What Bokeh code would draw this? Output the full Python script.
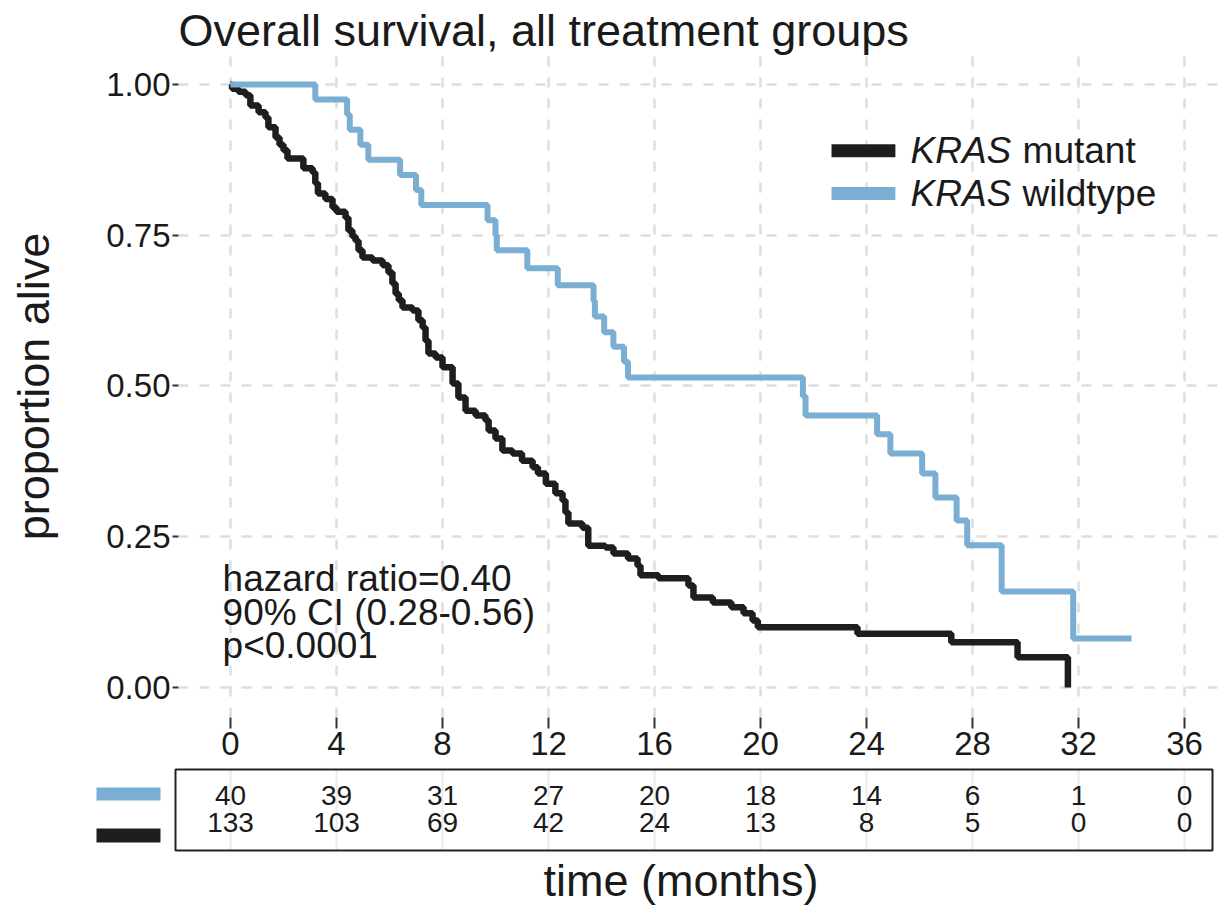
from bokeh.plotting import figure
from bokeh.models import Range1d, FixedTicker, NumeralTickFormatter, Title
from bokeh.layouts import column
from bokeh.embed import file_html
from bokeh.resources import INLINE
from bokeh.core.properties import value

# ---------------- data ----------------
month_ticks = [0, 4, 8, 12, 16, 20, 24, 28, 32, 36]
surv_ticks = [0.0, 0.25, 0.5, 0.75, 1.0]

# KRAS wildtype (n=40): step times (months) and survival after each step
wt_time = [0, 3.2, 4.4, 4.5, 4.9, 5.2, 6.4, 7.0, 7.2, 9.7, 10.0, 10.05, 11.2, 12.35,
           13.7, 13.75, 14.1, 14.45, 14.85, 15.0, 21.6, 21.7, 24.4, 24.9, 26.1, 26.6,
           27.4, 27.8, 29.1, 31.8, 34.0]
wt_surv = [1.0, 0.975, 0.95, 0.925, 0.90, 0.875, 0.85, 0.825, 0.80, 0.775, 0.75, 0.725,
           0.695, 0.667, 0.641, 0.615, 0.589, 0.565, 0.540, 0.514, 0.483, 0.451, 0.420,
           0.388, 0.355, 0.315, 0.277, 0.236, 0.159, 0.081, 0.081]

# KRAS mutant (n=133)
mut_time = [0, 0.06, 0.3, 0.57, 0.75, 1.06, 1.32, 1.43, 1.7, 1.85, 2.0, 2.15, 2.75, 3.1,
            3.2, 3.3, 3.58, 3.85, 4.0, 4.34, 4.45, 4.6, 4.72, 4.83, 4.98, 5.36, 5.74,
            5.96, 6.11, 6.23, 6.35, 6.49, 6.87, 7.09, 7.25, 7.36, 7.47, 7.74, 8.0, 8.38,
            8.6, 8.87, 9.25, 9.62, 9.74, 10.0, 10.26, 10.64, 11.0, 11.4, 11.6, 11.9,
            12.26, 12.53, 12.64, 12.75, 13.28, 13.5, 14.15, 14.45, 15.0, 15.36, 15.47,
            16.15, 17.28, 17.47, 18.2, 18.9, 19.36, 19.7, 19.9, 23.66, 27.2, 29.7, 31.6]
mut_surv = [1.0, 0.993, 0.988, 0.982, 0.965, 0.954, 0.945, 0.929, 0.912, 0.900, 0.891,
            0.877, 0.861, 0.854, 0.836, 0.819, 0.810, 0.796, 0.789, 0.779, 0.758, 0.748,
            0.741, 0.725, 0.713, 0.708, 0.700, 0.688, 0.670, 0.653, 0.642, 0.630, 0.625,
            0.609, 0.597, 0.575, 0.554, 0.547, 0.531, 0.504, 0.481, 0.459, 0.451, 0.443,
            0.426, 0.413, 0.393, 0.388, 0.376, 0.365, 0.355, 0.338, 0.322, 0.310, 0.290,
            0.272, 0.265, 0.235, 0.232, 0.222, 0.214, 0.202, 0.186, 0.181, 0.169, 0.149,
            0.141, 0.133, 0.123, 0.111, 0.100, 0.089, 0.075, 0.050, 0.0]

risk_wt = [40, 39, 31, 27, 20, 18, 14, 6, 1, 0]
risk_mut = [133, 103, 69, 42, 24, 13, 8, 5, 0, 0]

stats_lines = ["hazard ratio=0.40", "90% CI (0.28-0.56)", "p<0.0001"]
legend_groups = ["mutant", "wildtype"]

# ---------------- style ----------------
FONT = "Liberation Sans"
BLACK = "#1e1e1e"
BLUE = "#7aaed3"
GRID = "#dedede"
TXT = "#1a1a1a"
W = 1220
PXM = 26.5          # pixels per month
X0 = 230            # pixel position of month 0


def no_align(fig):
    if "frame_align" in fig.properties():
        fig.frame_align = False


# ---------------- main KM plot ----------------
p = figure(width=W, height=765,
           x_range=Range1d((178 - X0) / PXM, (W - X0) / PXM), y_range=Range1d(-0.0498, 1.048),
           output_backend="svg", toolbar_location=None,
           min_border_left=178, min_border_right=0, min_border_top=55, min_border_bottom=48)
no_align(p)
p.outline_line_color = None
p.background_fill_color = "white"
p.title = Title(text="Overall survival, all treatment groups", text_font=FONT,
                text_font_size="45px", text_font_style="normal", text_color=TXT,
                align="left", standoff=0, offset=0)

for g in (p.xgrid, p.ygrid):
    g.grid_line_color = GRID
    g.grid_line_width = 2.5
    g.grid_line_dash = "10 11"
p.xgrid.ticker = FixedTicker(ticks=month_ticks)
p.ygrid.ticker = FixedTicker(ticks=surv_ticks)

for ax in (p.xaxis, p.yaxis):
    ax.axis_line_color = None
    ax.major_tick_line_color = "#333333"
    ax.major_tick_line_width = 2
    ax.major_tick_in = 0
    ax.minor_tick_line_color = None
    ax.major_label_text_font = FONT
    ax.major_label_text_color = TXT
    ax.major_label_text_font_size = "33px"
    ax.axis_label_text_font = FONT
    ax.axis_label_text_font_style = "normal"
    ax.axis_label_text_font_size = "45px"
    ax.axis_label_text_color = TXT

p.xaxis.ticker = FixedTicker(ticks=month_ticks)
p.xaxis.major_tick_out = 11
p.xaxis.major_label_standoff = 3

p.yaxis.ticker = FixedTicker(ticks=surv_ticks)
p.yaxis.formatter = NumeralTickFormatter(format="0.00")
p.yaxis.major_tick_out = 6
p.yaxis.major_label_standoff = 2
p.yaxis.axis_label = "proportion alive"
p.yaxis.axis_label_standoff = 44

p.step(mut_time, mut_surv, mode="after", line_width=6.5, line_color=BLACK)
p.step(wt_time, wt_surv, mode="after", line_width=6, line_color=BLUE)

# statistics annotation
p.text(x=[-0.3] * 3, y=[0.181, 0.125, 0.070], text=stats_lines,
       text_font=value(FONT), text_font_size="37px", text_color=TXT,
       text_align="left", text_baseline="middle")

# legend (KRAS in italics)
leg_y = [0.890, 0.819]
leg_col = [BLACK, BLUE]
p.segment(x0=[22.68] * 2, y0=leg_y, x1=[25.09] * 2, y1=leg_y,
          line_color=leg_col, line_width=13, line_cap="butt")
p.text(x=[25.66] * 2, y=leg_y, text=["KRAS", "KRAS"], text_font=value(FONT),
       text_font_style="italic", text_font_size="37px", text_color=TXT,
       text_align="left", text_baseline="middle")
p.text(x=[29.89] * 2, y=leg_y, text=legend_groups, text_font=value(FONT),
       text_font_size="37px", text_color=TXT, text_align="left", text_baseline="middle")

# ---------------- risk table ----------------
H2 = 144
t = figure(width=W, height=H2,
           x_range=Range1d((90 - X0) / PXM, (W - X0) / PXM), y_range=Range1d(H2, 0),
           x_axis_type=None, y_axis_type=None,
           output_backend="svg", toolbar_location=None,
           min_border_left=90, min_border_right=0, min_border_top=0, min_border_bottom=0)
no_align(t)
t.outline_line_color = None
t.grid.visible = False

box_top, box_bot = 4, 85
t.segment(x0=month_ticks, y0=[box_top] * 10, x1=month_ticks, y1=[box_bot] * 10,
          line_color="#ececec", line_width=2)
t.quad(left=[(175 - X0) / PXM], right=[(1212 - X0) / PXM], top=[box_top], bottom=[box_bot],
       fill_color=None, line_color="#222222", line_width=2)
t.text(x=month_ticks, y=[30] * 10, text=[str(v) for v in risk_wt], text_font=value(FONT),
       text_font_size="28px", text_color=TXT, text_align="center", text_baseline="middle")
t.text(x=month_ticks, y=[57] * 10, text=[str(v) for v in risk_mut], text_font=value(FONT),
       text_font_size="28px", text_color=TXT, text_align="center", text_baseline="middle")
sw_l, sw_r = (96 - X0) / PXM, (160 - X0) / PXM
t.quad(left=[sw_l, sw_l], right=[sw_r, sw_r], top=[22, 63], bottom=[35, 77],
       fill_color=[BLUE, BLACK], line_color=None)
t.text(x=[17.0], y=[115], text=["time (months)"], text_font=value(FONT),
       text_font_size="45px", text_color=TXT, text_align="center", text_baseline="middle")

layout = column(p, t)
open("out.html", "w").write(file_html(layout, INLINE, "Overall survival"))
